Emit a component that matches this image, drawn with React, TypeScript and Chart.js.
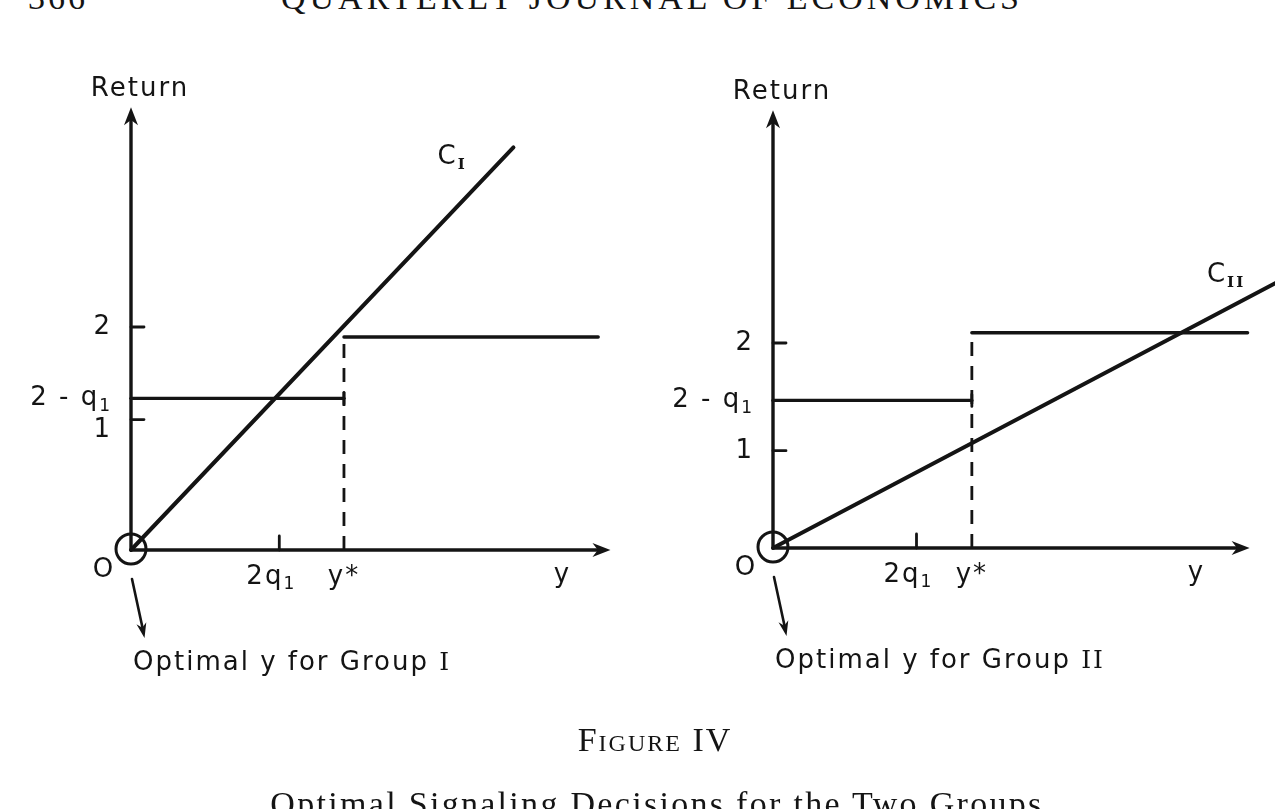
import { useEffect, useRef } from "react";
import Chart from "chart.js/auto";

// Values. Unit: half the distance from O to the "2" tick.
const panels = ["I", "II"];

// cost of signalling C_I / C_II (straight line from O)
const costEndX = [3.43, 4.95];
const costEndY = [3.61, 2.61];

// offered return schedule
const lowReturn = [1.36, 1.44]; // 2 - q1
const highReturn = [1.91, 2.1];
const yStar = [1.91, 1.94];
const highEndX = [4.19, 4.63];

// axes and ticks
const xAxisEnd = [4.3, 4.65];
const yAxisEnd = [3.97, 4.27];
const xTitleAt = [3.87, 4.13];
const twoQ1 = [1.33, 1.4];
const yTickOne = [1.17, 0.95];
const yTickTwo = [2, 2];
const cLabelX = [2.88, 4.42];
const cLabelY = [3.52, 2.66];

type Kind = "" | "sub" | "rsub" | "roman";
type Part = [string, Kind];

const yTickLabels: Part[][] = [[["2", ""]], [["2 - q", ""], ["1", "sub"]], [["1", ""]]];
const xTickLabels: Part[][] = [[["2q", ""], ["1", "sub"]], [["y*", ""]]];

// page layout of the two panels
const originX = [131, 773];
const originY = [550, 548];
const unitPx = [111.5, 102.5];
const canvasLeft = [0, 640];
const canvasW = [640, 660];
const canvasH = 809;
const oneLabelDrop = [11, 1]; // the "1" is lettered a little below its tick on the left

const INK = "#141414";
const LETTER = '"DejaVu Sans", sans-serif';

function partFont(kind: Kind) {
  if (kind === "sub") return `17px ${LETTER}`;
  if (kind === "rsub") return 'bold 15px "DejaVu Serif", serif';
  if (kind === "roman") return '25px "DejaVu Serif", serif';
  return `26px ${LETTER}`;
}

function drawText(ctx: CanvasRenderingContext2D, parts: Part[], x: number, y: number, align: "left" | "center" | "right") {
  ctx.save();
  ctx.textBaseline = "middle";
  ctx.textAlign = "left";
  (ctx as any).letterSpacing = "2px";
  const widths = parts.map(([t, k]) => {
    ctx.font = partFont(k);
    return ctx.measureText(t).width;
  });
  const total = widths.reduce((a, b) => a + b, 0);
  let cx = align === "left" ? x : align === "center" ? x - total / 2 : x - total;
  parts.forEach(([t, k], j) => {
    ctx.font = partFont(k);
    ctx.fillText(t, cx, y + (k === "sub" || k === "rsub" ? 8 : 0));
    cx += widths[j];
  });
  ctx.restore();
}

function arrowHead(ctx: CanvasRenderingContext2D, x: number, y: number, ang: number, len = 17, half = 6.5) {
  ctx.save();
  ctx.translate(x, y);
  ctx.rotate(ang);
  ctx.beginPath();
  ctx.moveTo(0, 0);
  ctx.lineTo(-len, -half);
  ctx.lineTo(-len * 0.7, 0);
  ctx.lineTo(-len, half);
  ctx.closePath();
  ctx.fill();
  ctx.restore();
}

const figureMarks = {
  id: "figureMarks",
  afterDatasetsDraw(chart: any) {
    const i: number = chart.options.plugins.figureMarks.panel;
    const ctx: CanvasRenderingContext2D = chart.ctx;
    const px = (v: number) => chart.scales.x.getPixelForValue(v);
    const py = (v: number) => chart.scales.y.getPixelForValue(v);
    const ox = px(0);
    const oy = py(0);
    ctx.save();
    ctx.strokeStyle = INK;
    ctx.fillStyle = INK;
    ctx.lineCap = "round";

    // axes with arrow heads
    const xTip = px(xAxisEnd[i]);
    const yTip = py(yAxisEnd[i]);
    ctx.lineWidth = 3.4;
    ctx.beginPath();
    ctx.moveTo(ox, oy);
    ctx.lineTo(ox, yTip + 8);
    ctx.moveTo(ox, oy);
    ctx.lineTo(xTip - 8, oy);
    ctx.stroke();
    arrowHead(ctx, ox, yTip, -Math.PI / 2, 18, 7);
    arrowHead(ctx, xTip, oy, 0, 18, 7);

    // tick marks (drawn inward) and the end cap of the low return
    ctx.lineWidth = 2.8;
    ctx.beginPath();
    [yTickTwo[i], yTickOne[i]].forEach((v) => {
      ctx.moveTo(ox, py(v));
      ctx.lineTo(ox + 13, py(v));
    });
    ctx.moveTo(px(twoQ1[i]), oy);
    ctx.lineTo(px(twoQ1[i]), oy - 14);
    ctx.moveTo(px(yStar[i]), py(lowReturn[i]) - 6);
    ctx.lineTo(px(yStar[i]), py(lowReturn[i]) + 6);
    ctx.stroke();

    // circled optimum at O and the pointer below it
    ctx.lineWidth = 3;
    ctx.beginPath();
    ctx.arc(ox, oy - 1, 15, 0, Math.PI * 2);
    ctx.stroke();
    ctx.lineWidth = 2.6;
    ctx.beginPath();
    ctx.moveTo(ox + 1, oy + 29);
    ctx.lineTo(ox + 12, oy + 80);
    ctx.stroke();
    arrowHead(ctx, ox + 13.5, oy + 88, Math.atan2(59, 12.5), 15, 5);

    // labels
    const yVals = [yTickTwo[i], lowReturn[i], yTickOne[i]];
    yVals.forEach((v, j) => drawText(ctx, yTickLabels[j], ox - 19, py(v) + (j === 2 ? oneLabelDrop[i] : 0), "right"));
    const xVals = [twoQ1[i], yStar[i]];
    xVals.forEach((v, j) => drawText(ctx, xTickLabels[j], px(v) - (j === 0 ? 8 : 0), oy + 27, "center"));
    drawText(ctx, [["O", ""]], ox - 27, oy + 20, "center");
    drawText(ctx, [["y", ""]], px(xTitleAt[i]), oy + 25, "center");
    drawText(ctx, [["Return", ""]], ox + 9, yTip - 18, "center");
    drawText(ctx, [["C", ""], [panels[i], "rsub"]], px(cLabelX[i]), py(cLabelY[i]), "center");
    drawText(ctx, [["Optimal y for Group ", ""], [panels[i], "roman"]], ox + 2, oy + 113, "left");
    ctx.restore();
  },
};

function Panel({ index }: { index: number }) {
  const canvasRef = useRef<HTMLCanvasElement>(null);
  const chartRef = useRef<Chart | null>(null);

  useEffect(() => {
    if (!canvasRef.current) return;
    const u = unitPx[index];
    const xMin = -(originX[index] - canvasLeft[index]) / u;
    const yMax = originY[index] / u;
    const line = {
      showLine: true,
      pointRadius: 0,
      borderColor: INK,
      borderWidth: 3.4,
      borderCapStyle: "round" as const,
      fill: false,
    };

    chartRef.current = new Chart(canvasRef.current, {
      type: "scatter",
      data: {
        datasets: [
          {
            ...line,
            label: "C" + panels[index],
            borderWidth: 4,
            data: [{ x: 0, y: 0 }, { x: costEndX[index], y: costEndY[index] }],
          },
          {
            ...line,
            label: "2 - q1",
            data: [{ x: 0, y: lowReturn[index] }, { x: yStar[index], y: lowReturn[index] }],
          },
          {
            ...line,
            label: "2",
            data: [{ x: yStar[index], y: highReturn[index] }, { x: highEndX[index], y: highReturn[index] }],
          },
          {
            ...line,
            label: "y*",
            borderWidth: 2.8,
            borderCapStyle: "butt" as const,
            borderDash: [14, 10],
            data: [{ x: yStar[index], y: 0 }, { x: yStar[index], y: highReturn[index] }],
          },
        ],
      },
      options: {
        animation: false,
        responsive: false,
        events: [],
        layout: { padding: 0 },
        plugins: {
          legend: { display: false },
          tooltip: { enabled: false },
          figureMarks: { panel: index },
        } as any,
        scales: {
          x: { type: "linear", display: false, min: xMin, max: xMin + canvasW[index] / u },
          y: { type: "linear", display: false, min: yMax - canvasH / u, max: yMax },
        },
      },
      plugins: [figureMarks],
    });

    return () => {
      if (chartRef.current) {
        chartRef.current.destroy();
        chartRef.current = null;
      }
    };
  }, [index]);

  return (
    <canvas
      ref={canvasRef}
      width={canvasW[index]}
      height={canvasH}
      style={{ position: "absolute", left: canvasLeft[index], top: 0 }}
    />
  );
}

const serif = '"Liberation Serif", "Times New Roman", serif';

export default function App() {
  return (
    <div style={{ position: "fixed", inset: 0, background: "#fff", overflow: "hidden", color: INK }}>
      <div style={{ position: "absolute", left: 28, top: -19, font: `34px/34px ${serif}`, letterSpacing: "3px" }}>366</div>
      <div style={{ position: "absolute", left: 281, top: -19, font: `34px/34px ${serif}`, letterSpacing: "4px", whiteSpace: "nowrap" }}>
        QUARTERLY JOURNAL OF ECONOMICS
      </div>
      {panels.map((_, i) => (
        <Panel key={i} index={i} />
      ))}
      <div style={{ position: "absolute", left: 0, width: 1310, top: 723, textAlign: "center", font: `small-caps 34px/34px ${serif}`, letterSpacing: "2px" }}>
        Figure IV
      </div>
      <div style={{ position: "absolute", left: 0, width: 1314, top: 787, textAlign: "center", font: `34px/34px ${serif}`, letterSpacing: "2.3px", whiteSpace: "nowrap" }}>
        Optimal Signaling Decisions for the Two Groups
      </div>
    </div>
  );
}
